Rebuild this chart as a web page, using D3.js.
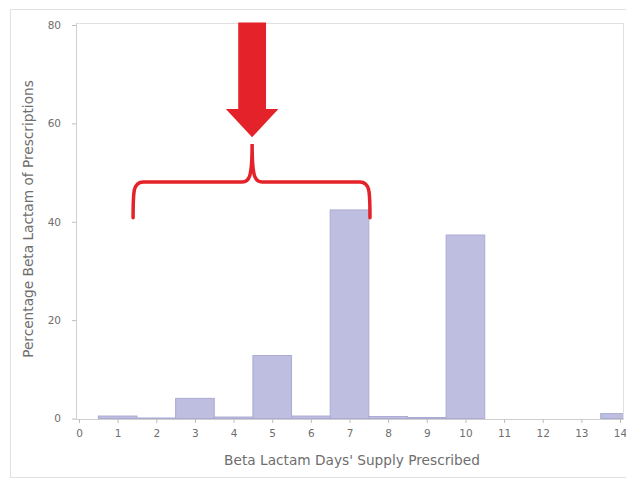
<!DOCTYPE html>
<html><head><meta charset="utf-8">
<script src="https://cdn.jsdelivr.net/npm/d3@7"></script>
<style>body{margin:0;background:#fff}svg{display:block}</style>
</head><body>
<script>
const days = [1,2,3,4,5,6,7,8,9,10,11,12,13,14];
const percents = [0.5,0.1,4.1,0.3,12.8,0.5,42.4,0.4,0.2,37.3,0,0,0,1.0];
const xTicks = [0,1,2,3,4,5,6,7,8,9,10,11,12,13,14];
const yTicks = [0,20,40,60,80];
const xLabel = "Beta Lactam Days' Supply Prescribed";
const yLabel = "Percentage Beta Lactam of Prescriptions";
// annotation in data units
const arrow = {x:4.48, top:80.5, headBase:62.9, tip:57.2, shaftHalf:0.36, headHalf:0.68};
const brace = {x0:1.40, x1:7.53, xm:4.48, yEnd:40.8, yBar:48.1, yCusp:55.8};

(function(){
const W=626,H=479;
const font="DejaVu Sans, Verdana, sans-serif";
const txt="#6e6e6e";
const svg=d3.select("body").append("svg").attr("width",W).attr("height",H);
const x=d3.scaleLinear().domain([0,14]).range([79,620]);
const y=d3.scaleLinear().domain([0,80]).range([418.5,25]);
const pL=76,pR=623,pT=23,pB=419;

svg.append("rect").attr("x",10.5).attr("y",9.5).attr("width",630).attr("height",468)
  .attr("fill","none").attr("stroke","#e2e2e2");
svg.append("rect").attr("x",pL+0.5).attr("y",pT+0.5).attr("width",pR-pL).attr("height",pB-pT)
  .attr("fill","#fff").attr("stroke","#e0e0e0");

svg.append("defs").append("clipPath").attr("id","c").append("rect")
  .attr("x",pL).attr("y",pT).attr("width",pR-pL).attr("height",pB-pT);

svg.append("g").attr("clip-path","url(#c)").selectAll("rect").data(days).join("rect")
  .attr("x",(d)=>x(d-0.5)).attr("width",(d)=>x(d+0.5)-x(d-0.5))
  .attr("y",(d,i)=>y(percents[i])).attr("height",(d,i)=>y(0)-y(percents[i]))
  .attr("fill","#bebee0").attr("stroke","#ababd3").attr("stroke-width",1);

const xa=svg.append("g").attr("transform",`translate(0,${pB})`)
  .call(d3.axisBottom(x).tickValues(xTicks).tickSize(4).tickPadding(7).tickFormat(d3.format("d")));
xa.select(".domain").attr("stroke","#cfcfcf").attr("d",`M${pL},0.5H${pR}`);
const ya=svg.append("g").attr("transform",`translate(${pL},0)`)
  .call(d3.axisLeft(y).tickValues(yTicks).tickSize(4).tickPadding(11));
ya.select(".domain").attr("stroke","#cfcfcf").attr("d",`M0.5,${pT}V${pB}`);
[xa,ya].forEach(a=>{a.selectAll(".tick line").attr("stroke","#bdbdbd");
  a.selectAll("text").attr("fill",txt).style("font-family",font).style("font-size","10.5px");});

svg.append("text").attr("x",352).attr("y",465).attr("text-anchor","middle")
  .style("font-family",font).style("font-size","13.7px").attr("fill",txt).text(xLabel);
svg.append("text").attr("transform","translate(33,219) rotate(-90)").attr("text-anchor","middle")
  .style("font-family",font).style("font-size","13.7px").attr("fill",txt).text(yLabel);

const red="#e42229";
svg.append("path").attr("fill",red).attr("d",
  `M${x(arrow.x-arrow.shaftHalf)},${y(arrow.top)}H${x(arrow.x+arrow.shaftHalf)}V${y(arrow.headBase)}`+
  `H${x(arrow.x+arrow.headHalf)}L${x(arrow.x)},${y(arrow.tip)}L${x(arrow.x-arrow.headHalf)},${y(arrow.headBase)}`+
  `H${x(arrow.x-arrow.shaftHalf)}Z`);
const bx0=x(brace.x0),bx1=x(brace.x1),bm=x(brace.xm),yE=y(brace.yEnd),yB=y(brace.yBar),yC=y(brace.yCusp);
svg.append("path").attr("fill","none").attr("stroke",red).attr("stroke-width",3.5).attr("stroke-linecap","round")
  .attr("d",`M${bx0},${yE}C${bx0},${yB+10} ${bx0},${yB} ${bx0+10},${yB}H${bm-10}C${bm-3},${yB} ${bm},${yB-4} ${bm},${yC}`+
    `C${bm},${yB-4} ${bm+3},${yB} ${bm+10},${yB}H${bx1-10}C${bx1},${yB} ${bx1},${yB+10} ${bx1},${yE}`);
})();
</script>
</body></html>
